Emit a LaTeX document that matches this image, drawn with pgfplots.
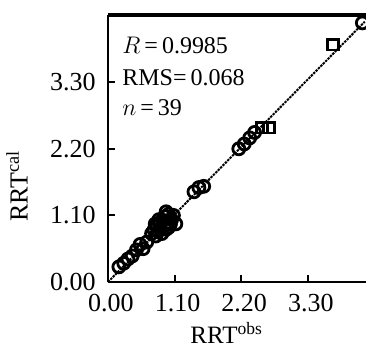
\documentclass[border=0pt]{standalone}
\usepackage{pgfplots}
\pgfplotsset{compat=1.18}
\usepackage{fontspec}
\setmainfont{Liberation Serif}
\begin{document}
\fontsize{12}{14}\selectfont
\begin{tikzpicture}
\begin{axis}[
  scale only axis,
  width=129pt, height=133.5pt,
  xmin=0, xmax=4.26, ymin=0, ymax=4.41,
  axis x line*=bottom, axis y line*=left,
  axis line style={line width=1.4pt},
  xtick={0,1.1,2.2,3.3}, ytick={0,1.1,2.2,3.3},
  xticklabels={0.00,1.10,2.20,3.30},
  yticklabels={0.00,1.10,2.20,3.30},
  tick align=inside, major tick length=3.5pt,
  tick style={line width=1pt, black},
  /pgf/number format/assume math mode=true,
  ticklabel style={font=\fontsize{13}{15}\selectfont},
  yticklabel style={xshift=-2pt},
  xticklabel style={yshift=-2pt, xshift=1.5pt},
  xlabel={RRT$^{\mathrm{obs}}$},
  ylabel={RRT$^{\mathrm{cal}}$},
  x label style={at={(axis description cs:0.46,0)}, anchor=north, yshift=-16pt, font=\fontsize{12.5}{14}\selectfont},
  y label style={at={(axis description cs:0,0.36)}, anchor=south, yshift=36pt, font=\fontsize{13}{15}\selectfont},
  clip=false,
]
\addplot[black, line width=1pt, dash pattern=on 1.2pt off 0.5pt] coordinates {(0,0) (4.24,4.30)};
\addplot[only marks, mark=o, mark size=3pt, line width=1.4pt, black] coordinates {
(0.18,0.25) (0.26,0.31) (0.33,0.38) (0.40,0.43) (0.47,0.53) (0.53,0.62) (0.58,0.55) (0.64,0.66)
(0.72,0.80) (0.76,0.86) (0.79,0.76) (0.80,0.92) (0.83,0.84) (0.85,0.97) (0.87,0.88) (0.89,0.80)
(0.90,1.02) (0.93,0.93) (0.95,1.08) (0.96,0.87) (0.98,0.98) (1.00,1.12) (1.03,0.95) (1.05,1.03)
(1.08,1.10) (1.12,0.96) (0.84,1.03) (0.96,1.16) (0.78,0.96) (1.00,0.90)
(1.42,1.49) (1.50,1.56) (1.58,1.58)
(2.16,2.20) (2.25,2.28) (2.34,2.38) (2.42,2.47)
(4.20,4.28)
};
\addplot[only marks, mark=square, mark size=2.7pt, line width=1.4pt, black] coordinates {
(2.54,2.55) (2.66,2.55) (3.72,3.92)
};
\end{axis}
\draw[line width=1.6pt] (0,133.5pt) -- (129pt,133.5pt);
\node[anchor=west, inner sep=0pt] at (7pt,118.5pt) {$R$\,=\,0.9985};
\node[anchor=west, inner sep=0pt] at (7pt,102pt) {RMS=\,0.068};
\node[anchor=west, inner sep=0pt] at (7pt,87pt) {$n$\,=\,39};
\pgfresetboundingbox
\path[use as bounding box] (-54pt,-32.5pt) rectangle (129pt,141pt);
\end{tikzpicture}
\end{document}
